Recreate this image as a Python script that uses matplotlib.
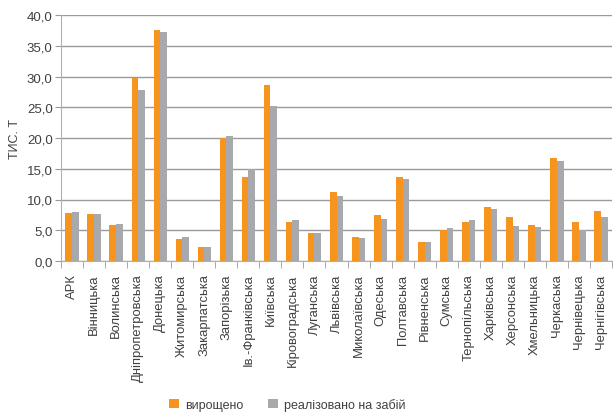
import matplotlib.pyplot as plt
import numpy as np
from matplotlib.ticker import FuncFormatter, MultipleLocator

regions = ['АРК', 'Вінницька', 'Волинська', 'Дніпропетровська', 'Донецька',
           'Житомирська', 'Закарпатська', 'Запорізька', 'Ів.-Франківська',
           'Київська', 'Кіровоградська', 'Луганська', 'Львівська',
           'Миколаївська', 'Одеська', 'Полтавська', 'Рівненська', 'Сумська',
           'Тернопільська', 'Харківська', 'Херсонська', 'Хмельницька',
           'Черкаська', 'Чернівецька', 'Чернігівська']
grown = [7.8, 7.7, 5.8, 29.7, 37.6, 3.5, 2.3, 20.0, 13.7, 28.6, 6.3, 4.5,
         11.2, 3.9, 7.4, 13.7, 3.1, 5.0, 6.3, 8.7, 7.1, 5.8, 16.7, 6.3, 8.1]
sold = [8.0, 7.7, 5.95, 27.8, 37.2, 3.9, 2.3, 20.3, 15.0, 25.2, 6.6, 4.5,
        10.6, 3.7, 6.8, 13.3, 3.1, 5.4, 6.6, 8.4, 5.7, 5.5, 16.3, 5.0, 7.1]
series_names = ['вирощено', 'реалізовано на забій']

plt.rcParams['font.family'] = ['Liberation Sans', 'DejaVu Sans']
text_color = '#404040'
orange = '#F7941D'
grey = '#A7A9AC'

fig = plt.figure(figsize=(6.14, 4.14), dpi=100)
ax = fig.add_axes([61 / 614, 1 - 262 / 414, 551 / 614, 246 / 414])

x = np.arange(len(regions))
w = 0.3
ax.bar(x - w / 2, grown, w, color=orange, label=series_names[0], zorder=3)
ax.bar(x + w / 2, sold, w, color=grey, label=series_names[1], zorder=3)

ax.set_xlim(-0.5, len(regions) - 0.5)
ax.set_ylim(0, 40)
ax.yaxis.set_major_locator(MultipleLocator(5))
ax.yaxis.set_major_formatter(FuncFormatter(lambda v, p: f'{v:.1f}'.replace('.', ',')))
ax.grid(axis='y', color='#9a9a9a', linewidth=1.0, zorder=0)

ax.set_xticks(x)
ax.set_xticklabels(regions, rotation=90, fontsize=9.4, color=text_color)
ax.set_xticks(np.arange(len(regions) + 1) - 0.5, minor=True)
ax.tick_params(axis='x', which='major', length=0, pad=9)
ax.tick_params(axis='x', which='minor', length=5, color='#9a9a9a')
ax.tick_params(axis='y', length=4, color='#9a9a9a', labelsize=9.5,
               labelcolor=text_color, pad=2)

for side in ['top', 'right']:
    ax.spines[side].set_visible(False)
for side in ['left', 'bottom']:
    ax.spines[side].set_color('#b0b0b0')

ax.set_ylabel('ТИС. Т', fontsize=9, color=text_color, labelpad=4)

fig.legend(loc='lower center', bbox_to_anchor=(0.468, -0.022), ncol=2,
           frameon=False, fontsize=9, handlelength=0.8, handleheight=0.8,
           columnspacing=2.0, handletextpad=0.5, labelcolor=text_color)

fig.savefig('out.png', dpi=100)
